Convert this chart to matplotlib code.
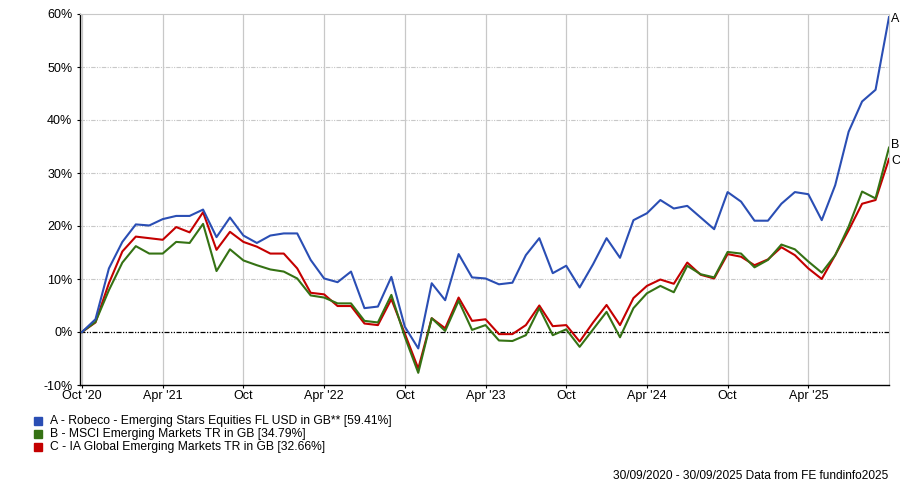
"""
Robeco Emerging Stars vs MSCI EM vs IA Global EM - cumulative performance,
30/09/2020 - 30/09/2025, monthly points. Saves out.png (900x484).
"""
import numpy as np
import matplotlib
matplotlib.use("Agg")
import matplotlib.pyplot as plt
from matplotlib.patches import Rectangle

plt.rcParams["font.family"] = ["Liberation Sans", "DejaVu Sans"]

# ---- data (cumulative % return, month ends Sep-2020 .. Sep-2025) ----
fund_a = [0, 2.4, 12.0, 17.0, 20.3, 20.1, 21.3, 21.9, 21.9, 23.1, 17.9, 21.6, 18.2, 16.8, 18.2, 18.6, 18.6,
          13.6, 10.1, 9.4, 11.4, 4.5, 4.8, 10.4, 1.0, -3.1, 9.2, 6.0, 14.7, 10.3, 10.1, 9.0, 9.3, 14.5, 17.7,
          11.1, 12.5, 8.4,
          12.8, 17.7, 14.0, 21.1, 22.4, 24.9, 23.3, 23.8, 21.6, 19.4, 26.4, 24.6, 21.0, 21.0, 24.2, 26.4, 26.0,
          21.1, 27.7, 37.8, 43.5, 45.7, 59.41]
index_b = [0, 1.9, 7.9, 13.1, 16.2, 14.8, 14.8, 17.0, 16.8, 20.4, 11.5, 15.6, 13.5, 12.6, 11.8, 11.4, 10.1,
           6.9, 6.5, 5.4, 5.4, 2.1, 1.8, 7.0, -0.9, -7.7, 2.6, 0.2, 5.9, 0.4, 1.3, -1.6, -1.7, -0.6, 4.5,
           -0.6, 0.5, -2.8,
           0.5, 3.8, -1.0, 4.5, 7.3, 8.7, 7.5, 12.5, 10.9, 10.3, 15.1, 14.8, 12.2, 13.6, 16.5, 15.6, 13.3,
           11.2, 14.5, 19.9, 26.5, 25.2, 34.79]
sector_c = [0, 1.8, 9.2, 15.2, 18.0, 17.7, 17.4, 19.8, 18.8, 22.6, 15.5, 18.9, 17.0, 16.1, 14.8, 14.8, 12.0,
            7.4, 7.1, 4.9, 4.9, 1.6, 1.3, 6.2, -0.3, -6.9, 2.6, 0.7, 6.5, 2.1, 2.4, -0.4, -0.4, 1.3, 5.0,
            1.1, 1.3, -1.8,
            1.8, 5.1, 1.3, 6.4, 8.7, 9.9, 9.1, 13.1, 10.8, 10.1, 14.7, 14.2, 12.6, 13.7, 16.0, 14.5, 12.0,
            10.0, 14.5, 19.2, 24.2, 24.9, 32.66]

series_names = ["A - Robeco - Emerging Stars Equities FL USD in GB** [59.41%]",
                "B - MSCI Emerging Markets TR in GB [34.79%]",
                "C - IA Global Emerging Markets TR in GB [32.66%]"]
series_tags = ["A", "B", "C"]
colors = ["#2a4eb4", "#357214", "#c40000"]

tick_months = [0, 6, 12, 18, 24, 30, 36, 42, 48, 54]
tick_labels = ["Oct '20", "Apr '21", "Oct", "Apr '22", "Oct", "Apr '23", "Oct", "Apr '24", "Oct", "Apr '25"]
y_ticks = [-10, 0, 10, 20, 30, 40, 50, 60]

footer = "30/09/2020 - 30/09/2025 Data from FE fundinfo2025"

W, H = 900, 484
fig = plt.figure(figsize=(W / 100, H / 100), dpi=100)
ax = fig.add_axes([80 / W, 1 - 385 / H, 809 / W, 371 / H])

series = [fund_a, index_b, sector_c]
x = np.arange(len(fund_a))
dashdot2 = (0, (4, 1.2, 1, 1.2, 1, 1.2))

# grid: vertical solid, horizontal dash-dot-dot
for t in tick_months:
    ax.axvline(t, color="#c8c8c8", lw=0.9, zorder=1)
for v in y_ticks[1:-1]:
    if v == 0:
        ax.axhline(0, color="black", lw=0.9, ls=dashdot2, zorder=2)
    else:
        ax.axhline(v, color="#c8c8c8", lw=0.8, ls=dashdot2, zorder=1)

# draw C, B, A so A is on top
for k in [2, 1, 0]:
    ax.plot(x, series[k], color=colors[k], lw=1.5, zorder=3 + (2 - k))

# end tags
tag_offsets = [-0.3, 0.4, -0.4]
for k in range(3):
    ax.annotate(series_tags[k], (x[-1], series[k][-1] + tag_offsets[k]), xytext=(1.5, 0),
                textcoords="offset points", va="center", ha="left", fontsize=9,
                annotation_clip=False)

ax.set_xlim(-0.15, x[-1])
ax.set_ylim(-10, 60)
ax.set_xticks(tick_months)
ax.set_xticklabels(tick_labels)
ax.set_yticks(y_ticks)
ax.set_yticklabels([f"{v}%" for v in y_ticks])
ax.tick_params(axis="both", labelsize=9, length=2.5, width=0.8, color="black")
ax.tick_params(axis="x", pad=1.0)
ax.tick_params(axis="y", pad=3)

ax.spines["left"].set_color("black")
ax.spines["bottom"].set_color("black")
ax.spines["left"].set_linewidth(1.0)
ax.spines["bottom"].set_linewidth(1.0)
ax.spines["top"].set_color("#c8c8c8")
ax.spines["right"].set_color("#c8c8c8")

# legend (manual, bottom left)
for k, name in enumerate(series_names):
    yc = 421 + 13 * k
    fig.patches.append(Rectangle((34 / W, 1 - (yc + 4) / H), 8 / W, 8 / H,
                                 transform=fig.transFigure, color=colors[k]))
    fig.text(50 / W, 1 - yc / H, name, fontsize=8.7, va="center", ha="left")

fig.text(888 / W, 1 - 476 / H, footer, fontsize=8.6, va="center", ha="right")

fig.savefig("out.png", dpi=100)
